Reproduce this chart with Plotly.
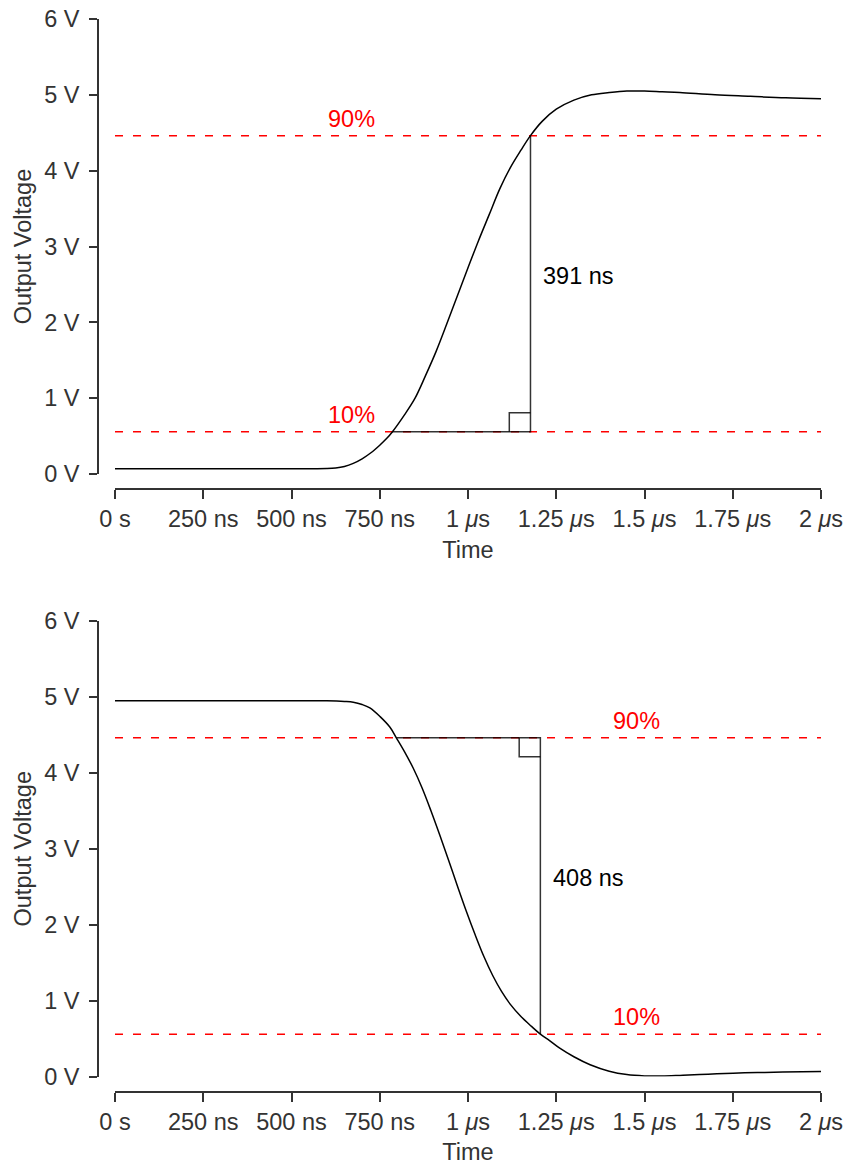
import plotly.graph_objects as go

# ---------------- data ----------------
rise_t = [0, 100, 200, 300, 400, 500, 600, 625, 650, 675, 700, 725, 750, 770, 786, 820, 850,
          880, 910, 940, 970, 1000, 1030, 1060, 1090, 1120, 1150, 1177, 1210, 1250, 1300, 1350,
          1400, 1450, 1500, 1550, 1600, 1700, 1800, 1900, 2000]
rise_v = [0.07, 0.07, 0.07, 0.07, 0.07, 0.07, 0.073, 0.08, 0.10, 0.14, 0.20, 0.28, 0.38, 0.47,
          0.558, 0.78, 1.00, 1.30, 1.62, 1.98, 2.35, 2.72, 3.08, 3.42, 3.76, 4.04, 4.27, 4.462,
          4.65, 4.81, 4.93, 5.00, 5.03, 5.05, 5.05, 5.04, 5.03, 5.00, 4.98, 4.96, 4.95]

fall_t = [0, 100, 200, 300, 400, 500, 600, 650, 675, 700, 722, 751, 779, 797, 820, 845, 870,
          895, 920, 945, 970, 995, 1020, 1045, 1070, 1095, 1120, 1150, 1180, 1205, 1232, 1261,
          1300, 1346, 1400, 1450, 1500, 1550, 1609, 1680, 1751, 1820, 1892, 2000]
fall_v = [4.95, 4.95, 4.95, 4.95, 4.95, 4.95, 4.948, 4.94, 4.93, 4.90, 4.855, 4.74, 4.60,
          4.462, 4.28, 4.06, 3.80, 3.50, 3.18, 2.85, 2.51, 2.18, 1.87, 1.58, 1.33, 1.12, 0.95,
          0.79, 0.66, 0.558, 0.47, 0.37, 0.26, 0.155, 0.07, 0.025, 0.008, 0.006, 0.017, 0.03,
          0.044, 0.052, 0.058, 0.066]

level_10 = 0.558
level_90 = 4.462

rise_t10, rise_t90 = 786, 1177   # ns
fall_t90, fall_t10 = 797, 1205   # ns

rise_label = "391 ns"
fall_label = "408 ns"
pct_labels = ["10%", "90%"]
rise_pct_x = 671
fall_pct_x = 1476

x_tickvals = [0, 250, 500, 750, 1000, 1250, 1500, 1750, 2000]
x_ticktext = ["0 s", "250 ns", "500 ns", "750 ns", "1 <i>μ</i>s", "1.25 <i>μ</i>s",
              "1.5 <i>μ</i>s", "1.75 <i>μ</i>s", "2 <i>μ</i>s"]
y_tickvals = [0, 1, 2, 3, 4, 5, 6]
y_ticktext = ["0 V", "1 V", "2 V", "3 V", "4 V", "5 V", "6 V"]

# corner marker size (data units)
sq_w = 60
sq_h = 0.25

# ---------------- layout geometry ----------------
W, H = 849, 1165
ML, MR, MT, MB = 98, 28, 19, 73
PW = W - ML - MR
PH = H - MT - MB


def py(pix):
    return (H - MB - pix) / PH


x_dom = [(115 - ML) / PW, 1.0]
top_dom = [py(474), 1.0]
bot_dom = [py(1076.5), py(621)]
top_xpos = py(489)
bot_xpos = 0.0

FONT = "Liberation Sans, Arial, sans-serif"
FS = 23.5
AX_COL = "#333333"
RED = "#ff0000"
MEAS = "rgba(0,0,0,0.8)"

fig = go.Figure()


def panel(xa, ya, t, v, t_from, t_to, lvl_h, corner_dir, label, pct_x):
    # dashed threshold lines
    for lv in (level_10, level_90):
        fig.add_trace(go.Scatter(x=[0, 2000], y=[lv, lv], mode="lines", xaxis=xa, yaxis=ya,
                                 line=dict(color=RED, width=1.5, dash="8px,10px"),
                                 hoverinfo="skip"))
    # measurement lines: horizontal at lvl_h, vertical at t_to
    other = level_90 if lvl_h == level_10 else level_10
    fig.add_trace(go.Scatter(x=[t_from, t_to, t_to], y=[lvl_h, lvl_h, other], mode="lines",
                             xaxis=xa, yaxis=ya, line=dict(color=MEAS, width=1.5),
                             hoverinfo="skip"))
    # right-angle marker
    yy = lvl_h + corner_dir * sq_h
    fig.add_trace(go.Scatter(x=[t_to - sq_w, t_to - sq_w, t_to], y=[lvl_h, yy, yy],
                             mode="lines", xaxis=xa, yaxis=ya,
                             line=dict(color=MEAS, width=1.5), hoverinfo="skip"))
    # waveform
    fig.add_trace(go.Scatter(x=t, y=v, mode="lines", xaxis=xa, yaxis=ya,
                             line=dict(color="black", width=1.5, shape="spline", smoothing=1.0),
                             hoverinfo="skip"))
    # annotations
    fig.add_annotation(x=t_to, y=(level_10 + level_90) / 2, xref=xa, yref=ya, text=label,
                       showarrow=False, xanchor="left", yanchor="middle", xshift=11, yshift=8,
                       font=dict(family=FONT, size=FS, color="black"))
    for lv, txt in zip((level_10, level_90), pct_labels):
        fig.add_annotation(x=pct_x, y=lv, xref=xa, yref=ya, text=txt, showarrow=False,
                           xanchor="center", yanchor="bottom", yshift=2,
                           font=dict(family=FONT, size=FS, color=RED))


panel("x", "y", rise_t, rise_v, rise_t10, rise_t90, level_10, 1, rise_label, rise_pct_x)
panel("x2", "y2", fall_t, fall_v, fall_t90, fall_t10, level_90, -1, fall_label, fall_pct_x)


def xaxis(pos):
    return dict(domain=x_dom, range=[0, 2000], anchor="free", position=pos,
                showline=True, linecolor=AX_COL, linewidth=1.5,
                ticks="outside", ticklen=9, tickwidth=1.5, tickcolor=AX_COL,
                tickvals=x_tickvals, ticktext=x_ticktext, showgrid=False, zeroline=False,
                tickfont=dict(family=FONT, size=FS, color=AX_COL),
                title=dict(text="Time", font=dict(family=FONT, size=FS, color=AX_COL), standoff=10),
                automargin=False, fixedrange=True)


def yaxis(dom):
    return dict(domain=dom, range=[0, 6], anchor="free", position=0,
                showline=True, linecolor=AX_COL, linewidth=1.5,
                ticks="outside", ticklen=8, tickwidth=1.5, tickcolor=AX_COL,
                ticklabelstandoff=5,
                tickvals=y_tickvals, ticktext=y_ticktext, showgrid=False, zeroline=False,
                tickfont=dict(family=FONT, size=FS, color=AX_COL),
                title=dict(text="Output Voltage", font=dict(family=FONT, size=FS, color=AX_COL),
                           standoff=5),
                automargin=False, fixedrange=True)


fig.update_layout(
    template="none",
    width=W, height=H,
    margin=dict(l=ML, r=MR, t=MT, b=MB, pad=0),
    paper_bgcolor="white", plot_bgcolor="white",
    showlegend=False,
    font=dict(family=FONT, size=FS, color=AX_COL),
    xaxis=xaxis(top_xpos), yaxis=yaxis(top_dom),
    xaxis2=xaxis(bot_xpos), yaxis2=yaxis(bot_dom),
)

fig.write_html("out.html")
